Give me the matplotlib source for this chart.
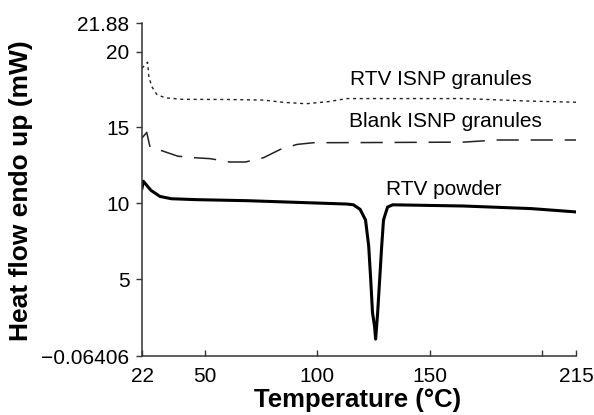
import matplotlib
matplotlib.use("Agg")
import matplotlib.pyplot as plt

plt.rcParams['font.family'] = ['Liberation Sans', 'DejaVu Sans']
plt.rcParams['lines.scale_dashes'] = False

# Data (temperature in °C, heat flow in mW)
powder_T = [22, 22.6, 24, 26, 30, 35, 46, 69, 91, 113, 116, 119, 121.4, 122.8,
            123.7, 124.5, 125.4, 125.9, 126.8, 127.7, 128.6, 129.4, 131.2, 133.5,
            165, 195, 215]
powder_V = [11.0, 11.45, 11.2, 10.85, 10.45, 10.3, 10.24, 10.17, 10.06, 9.95, 9.9,
            9.6, 8.9, 7.2, 5.0, 2.8, 1.9, 1.05, 2.8, 5.0, 7.2, 8.9, 9.75, 9.9,
            9.82, 9.65, 9.43]

isnp_T = [22, 24.5, 25, 26.3, 28.6, 32.3, 40, 60, 76, 85, 95, 105, 113, 140,
          165, 195, 215]
isnp_V = [18.9, 19.3, 18.4, 17.7, 17.17, 16.95, 16.85, 16.84, 16.8, 16.65, 16.56,
          16.7, 16.9, 16.9, 16.9, 16.73, 16.66]

blank_T = [22, 24.1, 25.6, 29.1, 38, 45.6, 52.3, 61, 68, 76, 83.5, 91, 98.2,
           120.5, 165, 180, 215]
blank_V = [14.3, 14.67, 13.68, 13.55, 13.1, 13.0, 12.94, 12.72, 12.72, 13.0,
           13.55, 13.88, 13.99, 14.0, 14.03, 14.17, 14.17]

x_ticks = [22, 50, 100, 150, 200, 215]
x_labels = ["22", "50", "100", "150", "", "215"]
y_ticks = [-0.06406, 5, 10, 15, 20, 21.88]
y_labels = ["\u22120.06406", "5", "10", "15", "20", "21.88"]

series_labels = ["RTV ISNP granules", "Blank ISNP granules", "RTV powder"]

fig = plt.figure(figsize=(5.94, 4.15), dpi=100)
ax = fig.add_axes([142/594, 1-356/415, (576-142)/594, (356-23)/415])

ax.plot(isnp_T, isnp_V, color='#222222', lw=1.0, dashes=(2.2, 2.6))
ax.plot(blank_T, blank_V, color='#222222', lw=1.1, dashes=(16, 8.5))
ax.plot(powder_T, powder_V, color='black', lw=2.2, solid_joinstyle='round')

ax.set_xlim(22, 215)
ax.set_ylim(-0.06406, 21.88)

ax.set_xticks(x_ticks)
ax.set_xticklabels(x_labels)
ax.set_yticks(y_ticks)
ax.set_yticklabels(y_labels)

for s in ['top', 'right']:
    ax.spines[s].set_visible(False)
for s in ['left', 'bottom']:
    ax.spines[s].set_color('#333333')
    ax.spines[s].set_linewidth(1.1)

ax.tick_params(axis='x', direction='in', length=4, width=1, colors='#333333',
               labelsize=15, labelcolor='black', pad=8)
ax.tick_params(axis='y', direction='out', length=4, width=1, colors='#333333',
               labelsize=15, labelcolor='black', pad=5)

ax.text(154.9, 18.16, series_labels[0], fontsize=15, ha='center', va='center')
ax.text(157.1, 15.4, series_labels[1], fontsize=15, ha='center', va='center')
ax.text(156.2, 10.92, series_labels[2], fontsize=15, ha='center', va='center')

fig.text(358/594, 1-400/415, "Temperature (\u00b0C)", fontsize=18.5,
         fontweight='bold', ha='center', va='center')
fig.text(21/594, 1-191/415, "Heat flow endo up (mW)", fontsize=19,
         fontweight='bold', ha='center', va='center', rotation=90)

fig.savefig("out.png", dpi=100)
